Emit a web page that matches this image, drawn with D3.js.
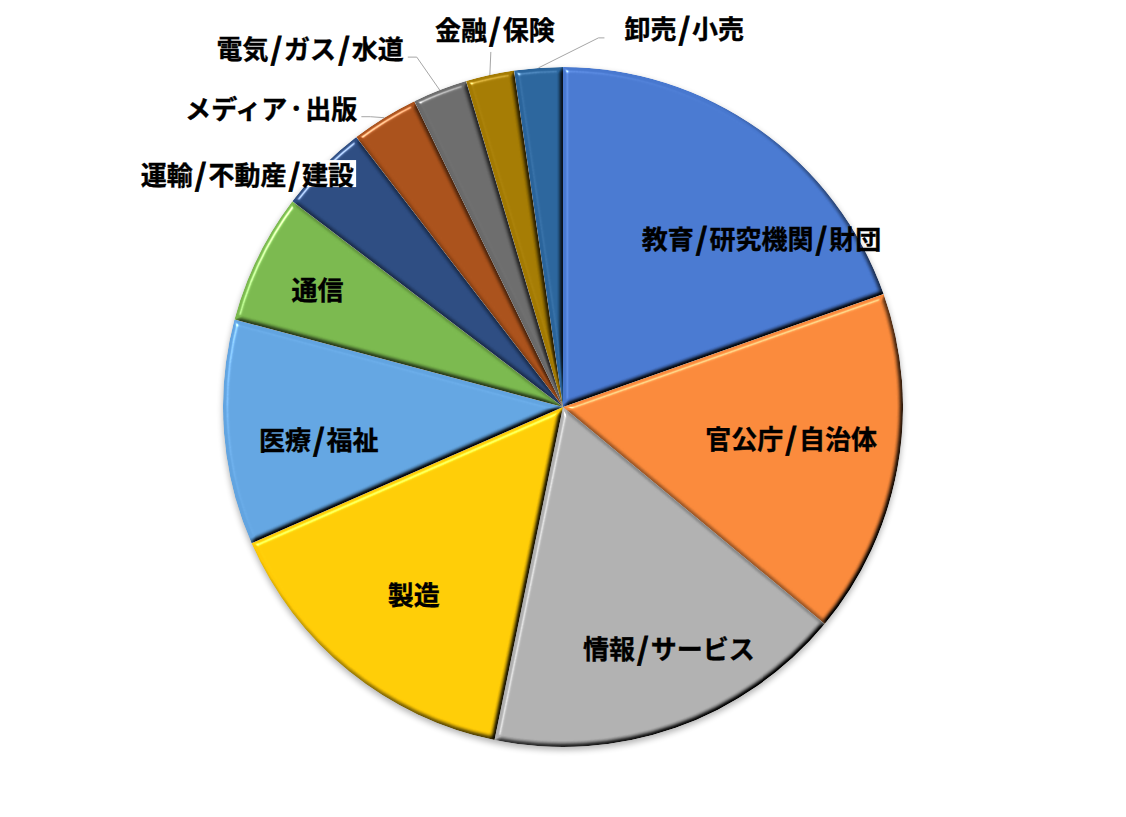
<!DOCTYPE html>
<html>
<head>
<meta charset="utf-8">
<script src="https://cdn.jsdelivr.net/npm/d3@7"></script>
<style>
  body { margin: 0; background: #fff; }
  svg { display: block; }
  text { font-family: "Noto Sans CJK JP", "Noto Sans", sans-serif; font-weight: 700; }
</style>
</head>
<body>
<svg id="chart" width="1126" height="817"></svg>
<script>
// data, clockwise from 12 o'clock
const categories = [
  "教育/研究機関/財団", "官公庁/自治体", "情報/サービス", "製造", "医療/福祉", "通信",
  "運輸/不動産/建設", "メディア・出版", "電気/ガス/水道", "金融/保険", "卸売/小売"
];
const shares = [19.6, 16.4, 17.2, 15.2, 10.7, 6.2, 4.25, 3.2, 2.6, 2.3, 2.3];
const colors = [
  "#4878cf", "#f8883a", "#afafaf", "#ffcb05", "#62a4e0", "#79b74d",
  "#2c4b80", "#a8501a", "#6b6b6b", "#a37a02", "#2a649b"
];

// label tweaks (pixel nudges from the default spot), like the hand-dragged labels in the original
const labelNudge = {
  "教育/研究機関/財団": [54, 34],
  "官公庁/自治体": [-18, -14],
  "情報/サービス": [23, 4],
  "製造": [8, -8],
  "医療/福祉": [5, 12],
  "通信": [-21, -9],
  "運輸/不動産/建設": [32, 6],
  "メディア・出版": [-27, -11],
  "電気/ガス/水道": [-36, -43],
  "金融/保険": [5, -47],
  "卸売/小売": [86, -41]
};

const width = 1126, height = 817;
const cx = 563, cy = 407, radius = 340;
const fontSize = 26;
const slashSize = 30;  // the original font has a bigger, bolder "/"
const slashPad = 2;
const dotSize = 18;    // ...and a narrow "・"

const svg = d3.select("#chart");
const defs = svg.append("defs");

// bevel look of the excel pie
const bevel = defs.append("filter").attr("id", "bevel")
  .attr("x", "-5%").attr("y", "-5%").attr("width", "110%").attr("height", "110%")
  .attr("color-interpolation-filters", "sRGB");
bevel.append("feGaussianBlur").attr("in", "SourceAlpha").attr("stdDeviation", 2.4).attr("result", "blur");
bevel.append("feDiffuseLighting").attr("in", "blur").attr("surfaceScale", 3.5)
  .attr("diffuseConstant", 1.45).attr("lighting-color", "#fff").attr("result", "diff")
  .append("feDistantLight").attr("azimuth", 225).attr("elevation", 45);
bevel.append("feComposite").attr("in", "SourceGraphic").attr("in2", "diff")
  .attr("operator", "arithmetic").attr("k1", 1).attr("result", "shaded");
bevel.append("feSpecularLighting").attr("in", "blur").attr("surfaceScale", 4)
  .attr("specularConstant", 0.6).attr("specularExponent", 40).attr("lighting-color", "#fff").attr("result", "spec")
  .append("feDistantLight").attr("azimuth", 225).attr("elevation", 40);
bevel.append("feComposite").attr("in", "spec").attr("in2", "SourceAlpha").attr("operator", "in").attr("result", "specIn");
bevel.append("feComposite").attr("in", "shaded").attr("in2", "specIn")
  .attr("operator", "arithmetic").attr("k2", 1).attr("k3", 1).attr("result", "lit");
bevel.append("feComposite").attr("in", "lit").attr("in2", "SourceAlpha").attr("operator", "in");

const shadow = defs.append("filter").attr("id", "shadow")
  .attr("x", "-10%").attr("y", "-10%").attr("width", "120%").attr("height", "120%");
shadow.append("feGaussianBlur").attr("stdDeviation", 3);

const pie = d3.pie().sort(null).value(d => d.value);
const arcs = pie(categories.map((c, i) => ({ name: c, value: shares[i], color: colors[i] })));

const arc = d3.arc().innerRadius(0).outerRadius(radius);
const innerLabelArc = d3.arc().innerRadius(250).outerRadius(250);
const edgeArc = d3.arc().innerRadius(radius).outerRadius(radius);

const g = svg.append("g").attr("transform", `translate(${cx},${cy})`);

// soft shadow under the pie
g.append("circle")
  .attr("cx", 0).attr("cy", 3).attr("r", radius)
  .attr("fill", "#000").attr("opacity", 0.3)
  .attr("filter", "url(#shadow)");

g.selectAll("path.slice")
  .data(arcs)
  .enter().append("path")
  .attr("class", "slice")
  .attr("d", arc)
  .attr("fill", d => d.data.color)
  .attr("filter", "url(#bevel)");

// labels
const isInside = d => d.data.value > 5;
const midAngle = d => (d.startAngle + d.endAngle) / 2;

const labelInfo = arcs.map(d => {
  const nudge = labelNudge[d.data.name] || [0, 0];
  const base = isInside(d) ? innerLabelArc.centroid(d) : edgeArc.centroid(d);
  const a = midAngle(d) * 180 / Math.PI;
  let anchor = "middle";
  if (!isInside(d)) {
    if (a > 352) anchor = "start";
    else if (a > 345) anchor = "middle";
    else anchor = "end";
  }
  return { d, x: base[0] + nudge[0], y: base[1] + nudge[1], anchor, edge: edgeArc.centroid(d) };
});

const leaderG = g.append("g");
const bgG = g.append("g");
const textG = g.append("g");

labelInfo.forEach(l => {
  const chars = Array.from(l.d.data.name);
  const t = textG.append("text")
    .attr("x", l.x).attr("y", l.y)
    .attr("text-anchor", l.anchor)
    .attr("dominant-baseline", "central")
    .attr("font-size", fontSize)
    .attr("fill", "#000")
    .attr("stroke", "#000")
    .attr("stroke-width", 0.35);
  t.selectAll("tspan")
    .data(chars)
    .enter().append("tspan")
    .attr("dx", (c, i) => (c === "/" || chars[i - 1] === "/") ? slashPad : 0)
    .attr("font-size", c => c === "/" ? slashSize : c === "・" ? dotSize : fontSize)
    .attr("stroke-width", c => c === "/" ? 0.9 : c === "・" ? 0.8 : 0.35)
    .text(c => c);

  if (isInside(l.d)) return;
  const b = t.node().getBBox();
  const ex = l.edge[0], ey = l.edge[1];

  // label box overlapping the slice edge gets a white background
  if (l.anchor === "end" && b.x + b.width > ex - 2 && ey > b.y) {
    bgG.append("rect")
      .attr("x", b.x - 2).attr("y", l.y - 13)
      .attr("width", b.width + 4).attr("height", 27)
      .attr("fill", "#fff");
    return;
  }

  let pts;
  if (l.anchor === "end") {
    const ay = l.y + 10;
    const ax = b.x + b.width + 4;
    pts = [[ex, ey], [Math.min(ax + 9, ex), ay], [ax, ay]];
  } else if (l.anchor === "start") {
    const ay = l.y + 11;
    const ax = b.x - 20;
    pts = [[ex, ey], [ax - 6, ay], [ax, ay]];
  } else {
    pts = [[ex, ey], [ex + 1, l.y + 24]];
  }
  leaderG.append("polyline")
    .attr("points", pts.map(p => p.join(",")).join(" "))
    .attr("fill", "none")
    .attr("stroke", "#a6a6a6")
    .attr("stroke-width", 1);
});
</script>
</body>
</html>
